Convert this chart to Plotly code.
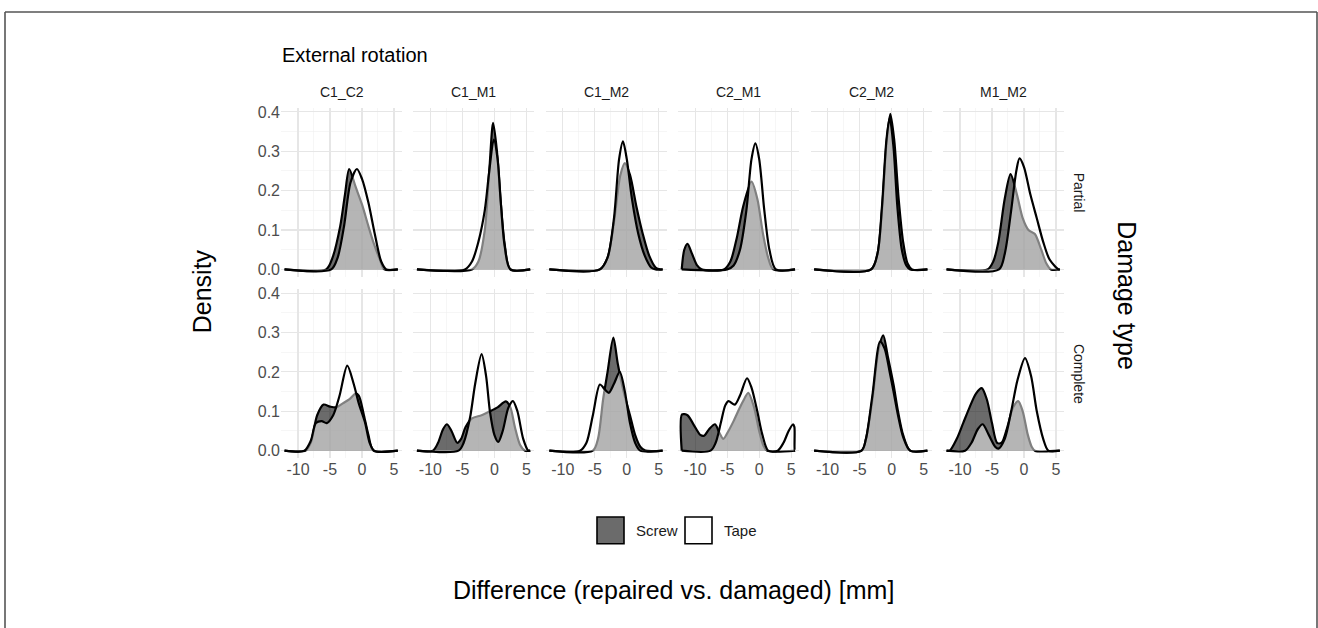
import plotly.graph_objects as go

# ---------------- data ----------------
COLUMNS = ["C1_C2", "C1_M1", "C1_M2", "C2_M1", "C2_M2", "M1_M2"]
ROWS = ["Partial", "Complete"]
GROUPS = ["Screw", "Tape"]
X_TICKS = [-10, -5, 0, 5]
X_TICK_LABELS = ["-10", "-5", "0", "5"]
Y_TICKS = [0.0, 0.1, 0.2, 0.3, 0.4]
Y_TICK_LABELS = ["0.0", "0.1", "0.2", "0.3", "0.4"]

# Partial damage: density curves (x, density)
P_C1C2_SCREW = [(-12.1, 0), (-5.6, 0), (-4.6, 0.03), (-3.4, 0.11), (-2.66, 0.19), (-2.0, 0.255), (-1.0, 0.21),
                (0.0, 0.165), (1.0, 0.11), (1.8, 0.068), (2.8, 0.025), (3.5, 0), (5.6, 0)]
P_C1C2_TAPE = [(-12.1, 0), (-4.8, 0), (-3.8, 0.03), (-2.8, 0.11), (-1.8, 0.22), (-0.8, 0.255), (0.0, 0.23),
               (1.0, 0.17), (2.0, 0.09), (3.0, 0.02), (3.8, 0), (5.6, 0)]
P_C1M1_SCREW = [(-12.1, 0), (-3.5, 0), (-2.5, 0.02), (-1.5, 0.1), (-0.8, 0.25), (-0.2, 0.372), (0.4, 0.3),
                (1.0, 0.17), (1.6, 0.065), (2.5, 0), (5.6, 0)]
P_C1M1_TAPE = [(-12.1, 0), (-4.6, 0), (-3.5, 0.02), (-2.5, 0.07), (-1.5, 0.15), (-0.8, 0.25), (-0.1, 0.33),
               (0.5, 0.28), (1.0, 0.17), (1.6, 0.06), (2.5, 0), (5.6, 0)]
P_C1M2_SCREW = [(-12.1, 0), (-4.2, 0), (-3.0, 0.03), (-2.0, 0.12), (-1.0, 0.24), (-0.3, 0.27), (0.5, 0.24),
                (1.5, 0.16), (2.5, 0.09), (3.5, 0.035), (4.5, 0.005), (5.2, 0), (5.6, 0)]
P_C1M2_TAPE = [(-12.1, 0), (-4.2, 0), (-3.0, 0.03), (-2.0, 0.13), (-1.2, 0.28), (-0.6, 0.325), (0.0, 0.28),
               (0.8, 0.18), (1.8, 0.09), (2.8, 0.035), (3.8, 0.005), (4.5, 0), (5.6, 0)]
P_C2M1_SCREW = [(-12.1, 0), (-11.7, 0.05), (-11.2, 0.065), (-10.5, 0.04), (-9.7, 0.01), (-9.0, 0), (-5.5, 0),
                (-4.5, 0.02), (-3.5, 0.08), (-2.5, 0.16), (-1.2, 0.223), (-0.3, 0.18), (0.6, 0.09),
                (1.4, 0.03), (2.2, 0), (5.6, 0)]
P_C2M1_TAPE = [(-12.1, 0), (-5.0, 0), (-4.0, 0.01), (-3.0, 0.05), (-2.0, 0.15), (-1.2, 0.28), (-0.6, 0.32),
               (0.0, 0.28), (0.8, 0.15), (1.6, 0.05), (2.6, 0), (5.6, 0)]
P_C2M2_SCREW = [(-12.1, 0), (-3.2, 0), (-2.2, 0.04), (-1.5, 0.15), (-0.8, 0.32), (-0.2, 0.395), (0.4, 0.33),
                (1.1, 0.18), (1.8, 0.07), (2.5, 0.015), (3.2, 0), (5.6, 0)]
P_C2M2_TAPE = [(-12.1, 0), (-3.2, 0), (-2.2, 0.04), (-1.5, 0.16), (-0.8, 0.33), (-0.3, 0.385), (0.3, 0.31),
               (0.9, 0.16), (1.6, 0.05), (2.3, 0.01), (2.9, 0), (5.6, 0)]
P_M1M2_SCREW = [(-12.1, 0), (-5.7, 0), (-4.8, 0.02), (-4.0, 0.07), (-3.0, 0.18), (-2.1, 0.242), (-1.1, 0.19),
                (-0.2, 0.13), (0.7, 0.1), (1.7, 0.09), (2.7, 0.05), (3.5, 0.015), (4.2, 0), (5.6, 0)]
P_M1M2_TAPE = [(-12.1, 0), (-3.9, 0), (-3.0, 0.04), (-2.0, 0.15), (-1.2, 0.25), (-0.7, 0.282), (0.0, 0.26),
               (1.0, 0.19), (2.0, 0.13), (3.0, 0.07), (4.0, 0.025), (5.4, 0), (5.6, 0)]

# Complete damage: density curves (x, density)
C_C1C2_SCREW = [(-12.1, 0), (-8.8, 0), (-8.0, 0.02), (-7.0, 0.09), (-6.0, 0.117), (-5.0, 0.112), (-4.0, 0.11),
                (-3.0, 0.12), (-2.0, 0.13), (-1.0, 0.145), (-0.5, 0.14), (0.3, 0.09), (1.0, 0.04), (1.8, 0), (5.6, 0)]
C_C1C2_TAPE = [(-12.1, 0), (-9.0, 0), (-8.0, 0.025), (-7.2, 0.07), (-6.3, 0.075), (-5.5, 0.07), (-4.5, 0.09),
               (-3.5, 0.14), (-2.3, 0.216), (-1.3, 0.17), (-0.5, 0.12), (0.5, 0.07), (1.2, 0.02), (1.9, 0), (5.6, 0)]
C_C1M1_SCREW = [(-12.1, 0), (-9.6, 0), (-8.8, 0.02), (-8.0, 0.055), (-7.4, 0.067), (-6.7, 0.05), (-5.8, 0.02),
                (-5.2, 0.03), (-4.5, 0.06), (-3.5, 0.082), (-2.0, 0.09), (-0.7, 0.1), (0.5, 0.11), (1.8, 0.125),
                (2.5, 0.11), (3.2, 0.06), (4.0, 0.015), (4.8, 0), (5.6, 0)]
C_C1M1_TAPE = [(-12.1, 0), (-5.6, 0), (-4.8, 0.02), (-3.8, 0.084), (-3.0, 0.17), (-2.0, 0.245), (-1.3, 0.19),
               (-0.7, 0.1), (0.0, 0.04), (0.6, 0.022), (1.3, 0.05), (2.2, 0.11), (2.9, 0.126), (3.6, 0.1),
               (4.5, 0.03), (5.3, 0), (5.6, 0)]
C_C1M2_SCREW = [(-12.1, 0), (-5.3, 0), (-4.5, 0.03), (-3.7, 0.13), (-3.0, 0.2), (-2.1, 0.287), (-1.4, 0.22),
                (-0.5, 0.15), (0.5, 0.09), (1.3, 0.04), (2.1, 0.01), (2.9, 0), (5.6, 0)]
C_C1M2_TAPE = [(-12.1, 0), (-7.3, 0), (-6.3, 0.02), (-5.3, 0.09), (-4.2, 0.168), (-3.4, 0.155), (-2.8, 0.147),
               (-2.0, 0.17), (-1.1, 0.2), (-0.3, 0.15), (0.5, 0.07), (1.3, 0.02), (2.1, 0), (5.6, 0)]
C_C2M1_SCREW = [(-12.1, 0), (-12.05, 0.092), (-11.2, 0.09), (-10.2, 0.065), (-9.2, 0.04), (-8.6, 0.038),
                (-7.8, 0.055), (-6.9, 0.067), (-6.2, 0.045), (-5.6, 0.03), (-4.8, 0.05), (-4.0, 0.075),
                (-3.0, 0.11), (-2.5, 0.126), (-1.7, 0.147), (-0.8, 0.11), (0.0, 0.05), (0.6, 0.015),
                (1.2, 0), (5.6, 0)]
C_C2M1_TAPE = [(-12.1, 0), (-7.6, 0), (-6.8, 0.02), (-6.0, 0.07), (-5.3, 0.115), (-4.8, 0.126), (-3.8, 0.117),
               (-3.0, 0.14), (-1.9, 0.184), (-1.2, 0.16), (-0.3, 0.1), (0.5, 0.04), (1.4, 0), (2.9, 0),
               (3.8, 0.02), (4.6, 0.05), (5.3, 0.067), (5.5, 0.06), (5.55, 0), (5.6, 0)]
C_C2M2_SCREW = [(-12.1, 0), (-4.7, 0), (-4.0, 0.03), (-3.0, 0.13), (-2.0, 0.26), (-1.3, 0.293), (-0.6, 0.24),
                (0.3, 0.168), (1.0, 0.1), (1.8, 0.04), (2.9, 0), (5.6, 0)]
C_C2M2_TAPE = [(-12.1, 0), (-4.7, 0), (-4.0, 0.03), (-3.0, 0.14), (-1.8, 0.277), (-1.1, 0.26), (-0.3, 0.2),
               (0.3, 0.15), (1.0, 0.09), (1.8, 0.035), (2.9, 0), (5.6, 0)]
C_M1M2_SCREW = [(-12.1, 0), (-11.6, 0), (-10.5, 0.03), (-9.5, 0.07), (-8.5, 0.11), (-7.5, 0.145), (-6.6, 0.159),
                (-5.8, 0.13), (-5.0, 0.07), (-4.2, 0.02), (-3.5, 0.02), (-2.6, 0.06), (-1.7, 0.11),
                (-0.9, 0.126), (-0.2, 0.1), (0.6, 0.04), (1.2, 0.01), (1.7, 0), (5.6, 0)]
C_M1M2_TAPE = [(-12.1, 0), (-9.2, 0), (-8.2, 0.02), (-7.2, 0.055), (-6.45, 0.067), (-5.5, 0.04), (-4.5, 0.01),
               (-4.0, 0.005), (-3.0, 0.03), (-2.0, 0.1), (-1.0, 0.18), (0.16, 0.235), (1.1, 0.19), (2.0, 0.1),
               (3.0, 0.03), (3.8, 0), (5.6, 0)]

PANELS = {
    ("Partial", "C1_C2"): (P_C1C2_SCREW, P_C1C2_TAPE),
    ("Partial", "C1_M1"): (P_C1M1_SCREW, P_C1M1_TAPE),
    ("Partial", "C1_M2"): (P_C1M2_SCREW, P_C1M2_TAPE),
    ("Partial", "C2_M1"): (P_C2M1_SCREW, P_C2M1_TAPE),
    ("Partial", "C2_M2"): (P_C2M2_SCREW, P_C2M2_TAPE),
    ("Partial", "M1_M2"): (P_M1M2_SCREW, P_M1M2_TAPE),
    ("Complete", "C1_C2"): (C_C1C2_SCREW, C_C1C2_TAPE),
    ("Complete", "C1_M1"): (C_C1M1_SCREW, C_C1M1_TAPE),
    ("Complete", "C1_M2"): (C_C1M2_SCREW, C_C1M2_TAPE),
    ("Complete", "C2_M1"): (C_C2M1_SCREW, C_C2M1_TAPE),
    ("Complete", "C2_M2"): (C_C2M2_SCREW, C_C2M2_TAPE),
    ("Complete", "M1_M2"): (C_M1M2_SCREW, C_M1M2_TAPE),
}

# ---------------- layout geometry (pixels) ----------------
W, H = 1318, 628
COL_LEFT0, COL_STEP, COL_W = 281.0, 132.4, 121.0
ROW_TOPS = [104.2, 287.2]
ROW_H = 170.5
X_RANGE = [-12.65, 6.25]
Y_RANGE = [-0.0195, 0.4095]

FONT = "Liberation Sans, Arial, sans-serif"
FILL = {"Screw": "rgba(0,0,0,0.58)", "Tape": "rgba(255,255,255,0.5)"}


def px(x):
    return x / W


def py(y):
    return 1 - y / H


fig = go.Figure()
layout = {}
annotations = []
shapes = []

for r, row in enumerate(ROWS):
    for c, col in enumerate(COLUMNS):
        idx = r * 6 + c + 1
        xa = "xaxis" if idx == 1 else f"xaxis{idx}"
        ya = "yaxis" if idx == 1 else f"yaxis{idx}"
        xref = "x" if idx == 1 else f"x{idx}"
        yref = "y" if idx == 1 else f"y{idx}"
        left = COL_LEFT0 + c * COL_STEP
        top = ROW_TOPS[r]
        layout[xa] = dict(
            domain=[px(left), px(left + COL_W)], range=X_RANGE, anchor=yref,
            tickvals=X_TICKS, ticktext=X_TICK_LABELS, showticklabels=(r == 1), ticks="",
            tickfont=dict(family=FONT, size=16, color="#4d4d4d"),
            showgrid=True, gridcolor="#e6e6e6", gridwidth=1.1, zeroline=False, showline=False,
            minor=dict(dtick=2.5, tick0=0, showgrid=True, gridcolor="#f0f0f0", gridwidth=0.6),
            fixedrange=True,
        )
        layout[ya] = dict(
            domain=[py(top + ROW_H), py(top)], range=Y_RANGE, anchor=xref,
            tickvals=Y_TICKS, ticktext=Y_TICK_LABELS, showticklabels=(c == 0), ticks="",
            tickfont=dict(family=FONT, size=16, color="#4d4d4d"),
            showgrid=True, gridcolor="#e6e6e6", gridwidth=1.1, zeroline=False, showline=False,
            minor=dict(dtick=0.05, tick0=0, showgrid=True, gridcolor="#f0f0f0", gridwidth=0.6),
            fixedrange=True,
        )
        for g, curve in zip(GROUPS, PANELS[(row, col)]):
            fig.add_trace(go.Scatter(
                x=[p[0] for p in curve], y=[p[1] for p in curve],
                mode="lines", fill="tozeroy", fillcolor=FILL[g],
                line=dict(color="black", width=2.2, shape="spline", smoothing=0.8),
                name=g, showlegend=False, xaxis=xref, yaxis=yref, hoverinfo="skip",
            ))
        if r == 0:
            annotations.append(dict(
                x=px(left + COL_W / 2), y=py(88), xref="paper", yref="paper", text=col,
                showarrow=False, font=dict(family=FONT, size=14, color="#1a1a1a"),
                xanchor="center", yanchor="middle",
            ))
    annotations.append(dict(
        x=px(1079), y=py(ROW_TOPS[r] + ROW_H / 2), xref="paper", yref="paper", text=row,
        showarrow=False, textangle=90, font=dict(family=FONT, size=14, color="#1a1a1a"),
        xanchor="center", yanchor="middle",
    ))

# titles
annotations += [
    dict(x=px(280), y=py(50), xref="paper", yref="paper", text="External rotation", showarrow=False,
         xanchor="left", yanchor="middle", font=dict(family=FONT, size=20, color="black")),
    dict(x=px(202), y=py(289), xref="paper", yref="paper", text="Density", showarrow=False,
         textangle=-90, xanchor="center", yanchor="middle", font=dict(family=FONT, size=25, color="black")),
    dict(x=px(1127), y=py(293), xref="paper", yref="paper", text="Damage type", showarrow=False,
         textangle=90, xanchor="center", yanchor="middle", font=dict(family=FONT, size=25, color="black")),
    dict(x=px(673), y=py(591), xref="paper", yref="paper", text="Difference (repaired vs. damaged) [mm]",
         showarrow=False, xanchor="center", yanchor="middle", font=dict(family=FONT, size=25, color="black")),
]

# legend (keys)
LEGEND_KEYS = [("Screw", 597, "#6b6b6b"), ("Tape", 685, "#ffffff")]
for label, x0, color in LEGEND_KEYS:
    shapes.append(dict(type="rect", xref="paper", yref="paper", x0=px(x0), x1=px(x0 + 27),
                       y0=py(544), y1=py(517), fillcolor=color, line=dict(color="black", width=1.6)))
    annotations.append(dict(x=px(x0 + 37), y=py(530.5), xref="paper", yref="paper", text=label,
                            showarrow=False, xanchor="left", yanchor="middle",
                            font=dict(family=FONT, size=15, color="#1a1a1a")))

# outer frame
for x0, y0, x1, y1 in [(5, 7, 1317, 7), (5, 7, 5, 640), (1317, 7, 1317, 640)]:
    shapes.append(dict(type="line", xref="paper", yref="paper", x0=px(x0), y0=py(y0), x1=px(x1), y1=py(y1),
                       line=dict(color="#555555", width=1.6)))

fig.update_layout(
    **layout,
    width=W, height=H, autosize=False,
    margin=dict(l=0, r=0, t=0, b=0),
    paper_bgcolor="white", plot_bgcolor="white",
    annotations=annotations, shapes=shapes, showlegend=False,
)

fig.write_html(
    "out.html",
    config={"displayModeBar": False, "staticPlot": True},
    post_script="document.body.style.margin='0';document.body.style.overflow='hidden';",
)
